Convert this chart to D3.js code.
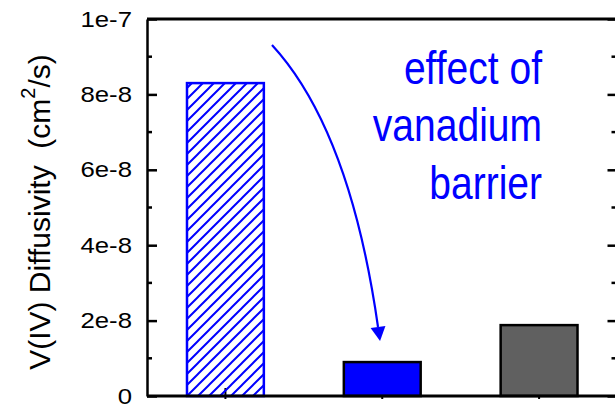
<!DOCTYPE html>
<html>
<head>
<meta charset="utf-8">
<script src="https://cdn.jsdelivr.net/npm/d3@7"></script>
<style>
  html, body { margin: 0; padding: 0; background: #fff; }
  svg { display: block; }
  text { font-family: "Liberation Sans", Arial, Helvetica, sans-serif; }
</style>
</head>
<body>
<svg id="chart" width="615" height="406"></svg>
<script>
// Samples and their V(IV) diffusivity (cm^2/s)
const samples = [1, 2, 3];
const diffusivity = [8.3e-8, 0.9e-8, 1.88e-8];
const barStyles = ["hatch", "blue", "gray"];

// Axis ticks
const majorTicks = [0, 2e-8, 4e-8, 6e-8, 8e-8, 1e-7];
const minorTicks = [1e-8, 3e-8, 5e-8, 7e-8, 9e-8];
const tickLabels = ["0", "2e-8", "4e-8", "6e-8", "8e-8", "1e-7"];

// Annotation text and arrow path (data coordinates)
const noteLines = ["effect of", "vanadium", "barrier"];
const arrowStart = [1.297, 9.31e-8];
const arrowControl = [1.794, 7.06e-8];
const arrowEnd = [1.973, 1.83e-8];
const arrowTip = [1.986, 1.46e-8];

const svg = d3.select("#chart");
const plotLeft = 147, plotRight = 617.5, plotTop = 19, plotBottom = 396;

const x = d3.scaleLinear().domain([0.5, 3.5]).range([plotLeft, plotRight]);
const y = d3.scaleLinear().domain([0, 1e-7]).range([plotBottom, plotTop]);
const step = x(2) - x(1);
const barW = step * 0.49;

// Hatch pattern for the first bar
const defs = svg.append("defs");
defs.append("pattern")
  .attr("id", "hatch")
  .attr("patternUnits", "userSpaceOnUse")
  .attr("width", 11).attr("height", 11)
  .append("path")
  .attr("d", "M-1,1 l2,-2 M0,11 l11,-11 M10,12 l2,-2")
  .attr("stroke", "#0000ff")
  .attr("stroke-width", 2)
  .attr("fill", "none");

// Bottom axis ticks at sample positions (under the bars)
const xTicks = svg.append("g");
xTicks.selectAll("line").data(samples).join("line")
  .attr("x1", d => x(d)).attr("x2", d => x(d))
  .attr("y1", plotBottom - 8).attr("y2", plotBottom + 3)
  .attr("stroke", "#000").attr("stroke-width", 2);

// Bars
const fills = { hatch: "url(#hatch)", blue: "#0000ff", gray: "#606060" };
const strokes = { hatch: "#0000ff", blue: "#000", gray: "#000" };
svg.append("g").selectAll("rect").data(samples).join("rect")
  .attr("x", d => x(d) - barW / 2)
  .attr("width", barW)
  .attr("y", (d, i) => y(diffusivity[i]))
  .attr("height", (d, i) => y(0) - y(diffusivity[i]))
  .attr("fill", (d, i) => fills[barStyles[i]])
  .attr("stroke", (d, i) => strokes[barStyles[i]])
  .attr("stroke-width", 2.5);

// Left axis with major labels and minor ticks
const yAxis = d3.axisLeft(y)
  .tickValues(majorTicks)
  .tickFormat((d, i) => tickLabels[i])
  .tickSizeInner(-10)
  .tickSizeOuter(0)
  .tickPadding(0);
const gy = svg.append("g").attr("transform", `translate(${plotLeft},0)`).call(yAxis);
gy.select(".domain").attr("stroke-width", 2.5);
gy.selectAll(".tick line").attr("stroke-width", 2.5);
const sx = 1.17;
gy.selectAll(".tick text")
  .attr("x", -15 / sx)
  .attr("transform", `scale(${sx},1)`)
  .attr("font-size", 22)
  .attr("fill", "#000")
  .style("font-family", '"Liberation Sans", Arial, sans-serif');

gy.append("g").selectAll("line").data(minorTicks).join("line")
  .attr("x1", 0).attr("x2", 5)
  .attr("y1", d => y(d)).attr("y2", d => y(d))
  .attr("stroke", "#000").attr("stroke-width", 2.5);

// Right axis (inward ticks, no labels)
const yAxisR = d3.axisRight(y)
  .tickValues(majorTicks)
  .tickFormat("")
  .tickSizeInner(-10)
  .tickSizeOuter(0);
const gr = svg.append("g").attr("transform", `translate(${plotRight},0)`).call(yAxisR);
gr.select(".domain").attr("stroke-width", 2.5);
gr.selectAll(".tick line").attr("stroke-width", 2.5);
gr.append("g").selectAll("line").data(minorTicks).join("line")
  .attr("x1", 0).attr("x2", -6)
  .attr("y1", d => y(d)).attr("y2", d => y(d))
  .attr("stroke", "#000").attr("stroke-width", 2.5);

// Bottom and top frame lines
svg.append("line")
  .attr("x1", plotLeft).attr("x2", plotRight)
  .attr("y1", y(0)).attr("y2", y(0))
  .attr("stroke", "#000").attr("stroke-width", 2.8);
svg.append("line")
  .attr("x1", plotLeft).attr("x2", plotRight)
  .attr("y1", y(1e-7)).attr("y2", y(1e-7))
  .attr("stroke", "#000").attr("stroke-width", 2.8);

// Y-axis title
const title = svg.append("text")
  .attr("transform", "translate(50,212) rotate(-90)")
  .attr("text-anchor", "middle")
  .attr("font-size", 30)
  .attr("fill", "#000");
title.append("tspan").text("V(IV) Diffusivity\u00a0\u00a0(cm");
title.append("tspan").attr("font-size", 20).attr("dy", -15).text("2");
title.append("tspan").attr("dy", 15).text("/s)");

// Annotation text
const note = svg.append("g")
  .attr("transform", "translate(542,0) scale(0.83,1)");
note.selectAll("text").data(noteLines).join("text")
  .attr("x", 0)
  .attr("y", (d, i) => 84 + i * 57.5)
  .attr("text-anchor", "end")
  .attr("font-size", 47)
  .attr("fill", "#0000ff")
  .text(d => d);

// Curved arrow from the first bar down to the second
const P = p => [x(p[0]), y(p[1])];
const [s0, c0, e0, t0] = [P(arrowStart), P(arrowControl), P(arrowEnd), P(arrowTip)];
const path = d3.path();
path.moveTo(s0[0], s0[1]);
path.quadraticCurveTo(c0[0], c0[1], e0[0], e0[1]);
svg.append("path")
  .attr("d", path.toString())
  .attr("fill", "none")
  .attr("stroke", "#0000ff")
  .attr("stroke-width", 2.2);

const dx = t0[0] - e0[0], dy = t0[1] - e0[1];
const len = Math.hypot(dx, dy);
const px = -dy / len * 7.5, py = dx / len * 7.5;
svg.append("polygon")
  .attr("points", [
    [t0[0], t0[1]],
    [e0[0] + px, e0[1] + py],
    [e0[0] - px, e0[1] - py]
  ].map(p => p.join(",")).join(" "))
  .attr("fill", "#0000ff");
</script>
</body>
</html>
